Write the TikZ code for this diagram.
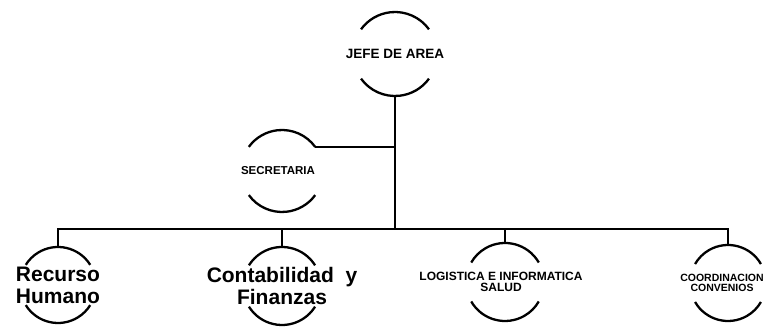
\documentclass[tikz,border=0pt]{standalone}
\usepackage{fontspec}
\setmainfont{Liberation Sans}
\newcommand{\arcos}[3]{%
  \pgfmathtruncatemacro{\angb}{180-#3}%
  \pgfmathtruncatemacro{\angc}{180+#3}%
  \pgfmathtruncatemacro{\angd}{360-#3}%
  \draw[arco] (#1.#3) arc[start angle=#3,end angle=\angb,radius=#2];
  \draw[arco] (#1.\angc) arc[start angle=\angc,end angle=\angd,radius=#2];}
\begin{document}
\begin{tikzpicture}[x=1pt,y=1pt]
\tikzset{cargo/.style = {shape=circle,minimum size=#1,inner sep=0pt,outer sep=0pt}}
\tikzset{grande/.style = {align=center,font=\fontsize{21}{22}\selectfont\bfseries}}
\tikzset{chico/.style = {align=center,font=\fontsize{#1}{10.5}\selectfont\bfseries}}
\tikzset{linea/.style = {line width=2.5pt}}
\tikzset{arco/.style = {line width=2.3pt}}
\useasboundingbox (0,0) rectangle (783,336);
% cargos
\node[cargo=84pt,label={[chico=13.5]center:JEFE DE AREA}] (jefe) at (395,282) {};
\node[cargo=82pt,label={[chico=11.5,xshift=-4pt]center:SECRETARIA}] (secre) at (282,165) {};
\node[cargo=76pt,label={[grande]center:Recurso\\Humano}] (rh) at (58,51) {};
\node[cargo=78pt,label={[grande]center:Contabilidad~ y\\Finanzas}] (cf) at (282,50) {};
\node[cargo=78pt,label={[chico=12,xshift=-4pt]center:LOGISTICA E INFORMATICA\\SALUD}] (li) at (505,54) {};
\node[cargo=76pt,label={[chico=10.5,xshift=-6pt]center:COORDINACION\\CONVENIOS}] (cc) at (728,53) {};
% arcos
\arcos{jefe}{42pt}{36}
\arcos{secre}{41pt}{36}
\arcos{rh}{38pt}{32}
\arcos{cf}{39pt}{32}
\arcos{li}{39pt}{30}
\arcos{cc}{38pt}{30}
% lineas
\coordinate (bus) at (jefe.south |- 0,107);
\draw[linea] (jefe.south) -- (bus);
\draw[linea] (secre.36) -- (secre.36 -| jefe);
\draw[linea] (rh.north) |- (bus) -| (cc.north);
\draw[linea] (cf.north) -- (cf.north |- bus);
\draw[linea] (li.north) -- (li.north |- bus);
\end{tikzpicture}
\end{document}
